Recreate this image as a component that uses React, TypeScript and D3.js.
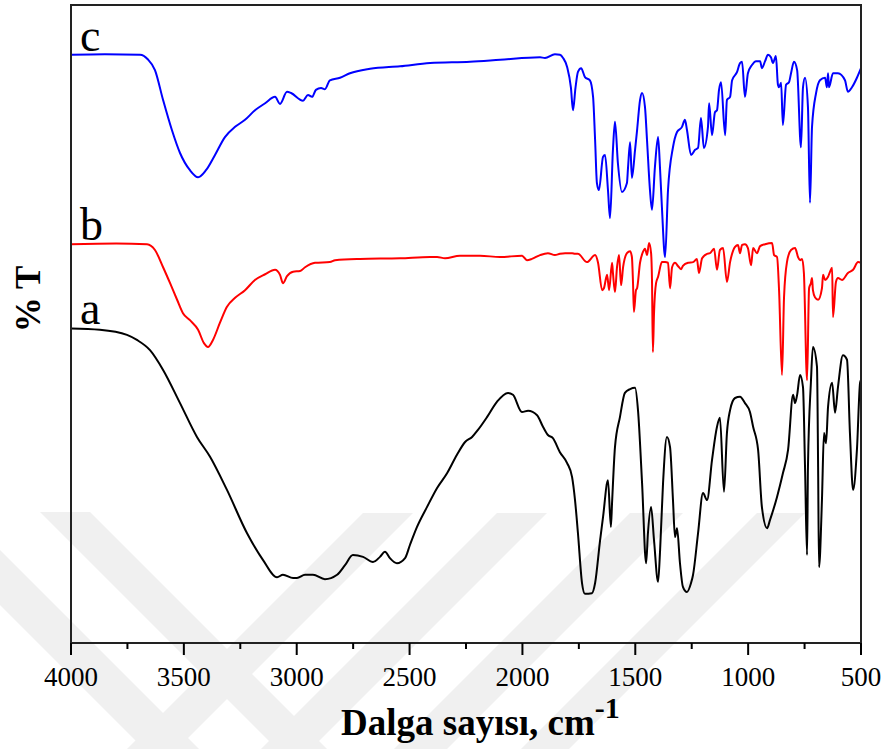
import React from "react";
import * as d3 from "d3";

// wavenumber (cm-1), %T (arbitrary, offset spectra)
const seriesA: [number, number][] = [[4000,49.3],[3872,49.1],[3752,48.3],[3708,47.5],[3650,45.9],[3592,42.8],[3517,37.6],[3442,32.3],[3384,29.2],[3309,24.0],[3220,17.2],[3149,13.0],[3087,10.3],[3061,10.7],[3016,10.2],[2999,10.2],[2963,10.7],[2928,10.7],[2875,10.0],[2821,10.7],[2786,12.2],[2751,13.8],[2706,13.5],[2662,12.7],[2631,13.5],[2609,14.3],[2587,13.3],[2556,12.5],[2520,13.3],[2498,15.4],[2467,18.2],[2423,21.3],[2378,24.3],[2334,26.6],[2290,29.5],[2254,31.5],[2223,32.3],[2197,33.4],[2157,35.4],[2113,37.8],[2064,39.2],[2042,38.9],[2002,36.2],[1975,36.4],[1935,35.7],[1909,33.9],[1887,32.6],[1865,32.1],[1834,29.9],[1802,28.2],[1780,26.0],[1767,22.4],[1754,17.2],[1736,9.4],[1723,7.7],[1692,7.8],[1678,9.4],[1656,16.1],[1643,19.7],[1621,25.5],[1608,18.2],[1603,21.9],[1590,30.7],[1568,35.4],[1546,39.2],[1523,39.8],[1501,40.0],[1488,36.5],[1470,25.1],[1452,12.5],[1444,17.2],[1430,21.3],[1417,16.1],[1399,9.6],[1390,14.6],[1377,25.1],[1360,32.3],[1346,30.7],[1333,22.4],[1324,16.6],[1315,18.0],[1302,12.5],[1289,8.8],[1271,8.0],[1253,9.4],[1244,10.7],[1222,17.2],[1200,23.5],[1182,22.4],[1160,28.7],[1138,33.9],[1125,35.3],[1107,23.7],[1094,32.9],[1080,36.5],[1058,38.4],[1036,38.6],[1014,37.6],[992,36.2],[978,33.9],[956,30.3],[939,21.3],[916,18.0],[903,19.3],[872,22.9],[846,26.6],[823,30.3],[801,38.9],[792,37.6],[783,38.9],[770,42.0],[757,40.1],[748,27.6],[739,13.8],[735,27.6],[722,40.8],[713,46.4],[695,43.3],[690,27.6],[686,11.9],[673,22.4],[664,32.9],[655,31.3],[646,37.0],[628,40.8],[615,36.1],[602,40.1],[580,45.1],[562,44.4],[549,32.9],[535,24.0],[518,30.3],[504,40.8],[500,41.2]];

const seriesB: [number, number][] = [[4000,62.5],[3800,62.6],[3663,62.5],[3628,61.6],[3592,58.9],[3561,56.4],[3530,53.8],[3504,51.7],[3473,50.6],[3437,49.1],[3411,47.0],[3393,46.4],[3371,47.5],[3340,50.2],[3309,52.7],[3273,54.1],[3229,55.3],[3185,56.9],[3140,57.8],[3096,58.5],[3074,57.7],[3061,56.4],[3043,57.5],[3016,58.2],[2985,58.3],[2963,58.9],[2919,59.6],[2853,59.7],[2830,60.0],[2720,60.2],[2542,60.3],[2409,60.5],[2378,60.5],[2343,60.3],[2277,60.7],[2188,60.7],[2099,60.5],[2002,60.7],[1980,60.0],[1958,60.2],[1922,60.8],[1887,61.1],[1856,60.8],[1834,61.0],[1811,61.1],[1780,61.1],[1767,61.0],[1754,61.0],[1714,59.7],[1678,60.8],[1665,59.6],[1647,55.3],[1639,55.6],[1625,57.7],[1616,55.3],[1603,59.6],[1599,58.0],[1590,55.0],[1581,58.9],[1572,60.8],[1563,56.1],[1554,58.9],[1537,61.1],[1523,61.4],[1515,60.5],[1510,56.4],[1506,51.9],[1497,55.3],[1492,55.6],[1479,59.6],[1466,61.3],[1457,61.8],[1448,60.8],[1439,62.7],[1430,61.1],[1426,56.9],[1422,45.6],[1417,51.7],[1408,56.4],[1399,57.4],[1382,59.7],[1368,59.7],[1355,59.6],[1346,55.6],[1337,58.9],[1324,59.6],[1311,59.1],[1297,58.6],[1289,59.1],[1266,59.6],[1244,59.7],[1227,60.2],[1218,58.0],[1204,60.3],[1182,61.0],[1169,61.1],[1151,61.8],[1138,58.5],[1125,61.6],[1111,61.9],[1094,56.6],[1080,59.7],[1058,62.1],[1045,62.4],[1036,61.1],[1027,62.4],[1014,62.5],[1001,61.9],[987,59.2],[978,61.9],[961,61.1],[947,62.2],[925,62.5],[894,62.7],[885,60.8],[872,60.5],[863,55.3],[850,42.0],[841,54.2],[828,59.7],[810,61.6],[792,61.9],[779,60.5],[770,60.0],[761,60.2],[753,58.0],[739,41.2],[730,55.6],[722,56.4],[717,57.2],[713,55.3],[704,54.2],[690,53.8],[673,55.6],[668,57.7],[659,56.9],[646,57.4],[637,58.2],[628,58.8],[624,51.1],[611,56.6],[602,57.2],[584,56.9],[558,58.0],[535,58.5],[513,59.7],[500,59.6]];

const seriesC: [number, number][] = [[4000,92.2],[3850,92.3],[3694,92.2],[3660,91.5],[3628,89.8],[3592,85.1],[3553,80.4],[3517,76.8],[3473,74.1],[3437,73.0],[3402,74.1],[3362,76.5],[3318,79.3],[3273,80.9],[3229,82.0],[3185,83.5],[3140,84.6],[3096,85.6],[3074,84.5],[3043,86.4],[3025,86.2],[2972,85.0],[2950,85.9],[2932,85.6],[2915,86.7],[2892,87.0],[2875,86.8],[2853,88.2],[2808,88.6],[2764,89.3],[2675,90.0],[2542,90.4],[2409,90.9],[2232,91.1],[2099,91.4],[1922,91.8],[1900,91.7],[1856,92.3],[1834,92.2],[1820,91.7],[1802,90.3],[1785,87.0],[1776,83.5],[1765,87.0],[1754,89.5],[1740,90.1],[1723,88.7],[1701,88.2],[1687,85.6],[1678,78.8],[1670,72.1],[1661,71.0],[1643,76.2],[1634,76.5],[1621,71.0],[1612,66.6],[1599,77.3],[1590,81.7],[1577,75.2],[1559,70.7],[1537,72.1],[1532,74.6],[1523,78.5],[1515,72.9],[1501,77.3],[1492,80.4],[1479,85.1],[1470,86.2],[1457,84.0],[1448,78.8],[1435,71.0],[1426,67.9],[1413,74.6],[1399,79.3],[1390,74.1],[1382,68.3],[1368,60.5],[1355,71.0],[1333,77.7],[1315,80.1],[1293,80.9],[1280,82.0],[1271,80.4],[1253,76.5],[1235,77.3],[1222,77.6],[1209,82.3],[1196,77.6],[1178,80.9],[1173,84.6],[1160,79.6],[1147,83.2],[1138,83.5],[1129,86.7],[1120,87.9],[1102,79.6],[1094,85.1],[1080,85.6],[1071,88.2],[1049,89.5],[1036,90.9],[1027,91.1],[1014,85.6],[1001,89.3],[983,90.6],[965,91.2],[947,91.2],[939,90.1],[925,91.2],[912,92.2],[899,91.8],[890,90.9],[877,92.0],[868,87.5],[863,87.1],[854,87.8],[846,81.2],[832,87.5],[819,87.9],[810,89.3],[797,91.1],[783,89.8],[766,77.7],[757,87.1],[748,88.6],[735,84.0],[726,69.0],[717,80.9],[699,86.2],[682,88.2],[659,88.6],[651,87.1],[646,89.3],[642,87.1],[624,89.3],[602,89.3],[571,88.2],[558,86.4],[540,87.1],[518,88.6],[500,90.1]];

const seriesLabels = ["a", "b", "c"];
const seriesColors = ["#000000", "#ff0000", "#0000ff"];
const majorTicks = [4000, 3500, 3000, 2500, 2000, 1500, 1000, 500];
const minorTicks = [3750, 3250, 2750, 2250, 1750, 1250, 750];
const labelLevels = [49.3, 62.5, 92.2];

// faint background watermark bands (page decoration)
const watermark: string[] = [
  "40,512 90,512 327,749 277,749",
  "0,550 0,605 144,749 199,749",
  "363,513 413,513 177,749 127,749",
  "497,513 547,513 311,749 261,749",
  "630,513 683,513 447,749 394,749",
  "757,513 805,513 569,749 521,749",
];

const W = 885, H = 749;
const L = 71, R = 861, T = 5, B = 643;
const FONT = "'Liberation Serif', 'Times New Roman', serif";

export default function App() {
  const x = d3.scaleLinear().domain([4000, 500]).range([L, R]);
  const y = d3.scaleLinear().domain([0, 100]).range([B, T]);
  const line = d3.line<[number, number]>()
    .x(d => x(d[0]))
    .y(d => y(d[1]))
    .curve(d3.curveMonotoneX);
  const all = [seriesA, seriesB, seriesC];
  return (
    <svg width={W} height={H} style={{ position: "absolute", left: 0, top: 0, background: "#fff" }}>
      <rect x={0} y={0} width={W} height={H} fill="#fff" />
      {watermark.map((p, i) => (
        <polygon key={i} points={p} fill="#f0f0f0" />
      ))}
      {all.map((s, i) => (
        <path key={i} d={line(s) || ""} fill="none" stroke={seriesColors[i]} strokeWidth={2} strokeLinejoin="round" />
      ))}
      <rect x={L} y={T} width={R - L} height={B - T} fill="none" stroke="#222" strokeWidth={2} />
      {majorTicks.map(t => (
        <g key={t}>
          <line x1={x(t)} x2={x(t)} y1={B} y2={B + 12} stroke="#000" strokeWidth={2} />
          <text x={x(t)} y={686} textAnchor="middle" fontFamily={FONT} fontSize={27} fill="#000">{t}</text>
        </g>
      ))}
      {minorTicks.map(t => (
        <line key={t} x1={x(t)} x2={x(t)} y1={B} y2={B + 6} stroke="#000" strokeWidth={2} />
      ))}
      {seriesLabels.map((lab, i) => (
        <text key={lab} x={80} y={y(labelLevels[i]) - 4} fontFamily={FONT} fontSize={46} fill="#000">{lab}</text>
      ))}
      <text x={341} y={735} fontFamily={FONT} fontSize={37} fontWeight="bold" fill="#000">
        Dalga sayısı, cm<tspan fontSize={30} dy={-17}>-1</tspan>
      </text>
      <text transform="translate(40,299) rotate(-90)" textAnchor="middle" fontFamily={FONT} fontSize={35} fontWeight="bold" fill="#000">% T</text>
    </svg>
  );
}
